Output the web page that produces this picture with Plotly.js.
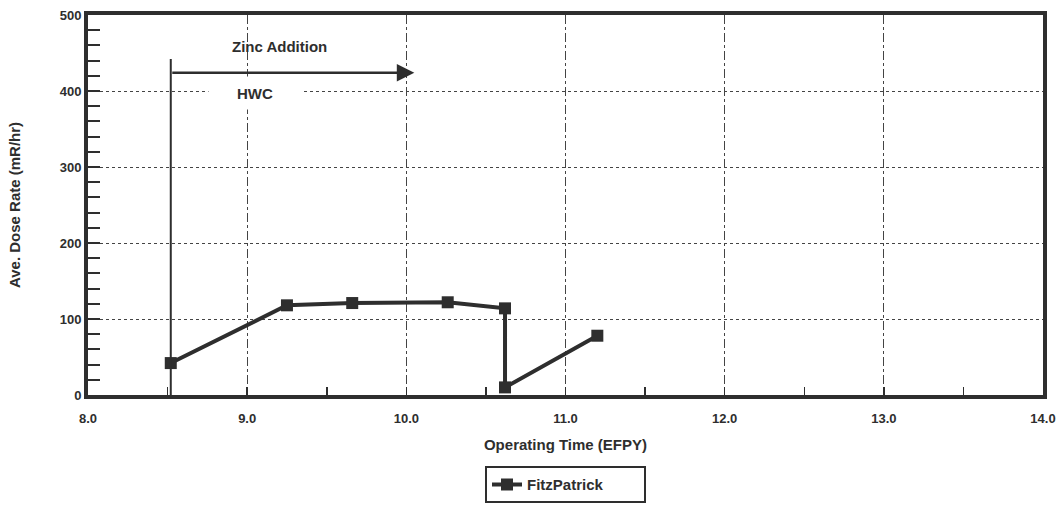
<!DOCTYPE html>
<html>
<head>
<meta charset="utf-8">
<script src="https://cdn.plot.ly/plotly-3.0.1.min.js"></script>
<style>html,body{margin:0;padding:0;background:#fff;}#chart{width:1063px;height:508px;}</style>
</head>
<body>
<div id="chart"></div>
<script>
// Data
const seriesName = "FitzPatrick";
const timeEFPY = [8.52, 9.25, 9.66, 10.26, 10.62, 10.62, 11.2];
const doseRate = [42, 118, 121, 122, 114, 10, 78];

// Annotation data
const hwcStart = 8.52;
const hwcLineTop = 442;
const zincArrowY = 424;
const zincArrowEnd = 10.05;
const zincLabel = "Zinc Addition";
const zincLabelPos = [9.2, 459];
const hwcLabel = "HWC";
const hwcLabelPos = [9.05, 398];

const ink = "#2e2e2e";
const fontFam = "Liberation Sans, Arial, sans-serif";

const trace = {
  x: timeEFPY, y: doseRate, name: seriesName, type: "scatter", mode: "lines+markers",
  line: {color: ink, width: 4},
  marker: {symbol: "square", size: 12, color: ink},
  showlegend: true
};

const layout = {
  width: 1063, height: 508,
  margin: {l: 88, r: 20, t: 15, b: 113},
  paper_bgcolor: "#fff", plot_bgcolor: "#fff",
  font: {family: fontFam, color: ink, size: 13, weight: "bold"},
  xaxis: {
    range: [8, 14], dtick: 1, tick0: 8, tickformat: ".1f",
    automargin: false,
    showline: true, linewidth: 4, linecolor: ink, mirror: true,
    ticks: "inside", ticklen: 8, tickwidth: 1.5, tickcolor: ink,
    minor: {dtick: 0.5, ticks: "inside", ticklen: 8, tickwidth: 1.5, tickcolor: ink, showgrid: false},
    showgrid: true, gridcolor: "#444", gridwidth: 1, griddash: "dashdot",
    zeroline: false,
    ticklabelstandoff: 8,
    tickfont: {size: 13, family: fontFam, weight: "bold"},
    title: {text: "Operating Time (EFPY)", font: {size: 15, family: fontFam, weight: "bold"}, standoff: 16}
  },
  yaxis: {
    range: [0, 500], dtick: 100,
    automargin: false,
    showline: true, linewidth: 4, linecolor: ink, mirror: true,
    ticks: "inside", ticklen: 12, tickwidth: 2, tickcolor: ink,
    minor: {dtick: 20, ticks: "inside", ticklen: 12, tickwidth: 2, tickcolor: ink, showgrid: false},
    showgrid: true, gridcolor: "#444", gridwidth: 1, griddash: "dot",
    zeroline: false,
    tickfont: {size: 13, family: fontFam, weight: "bold"},
    title: {text: "Ave. Dose Rate (mR/hr)", font: {size: 15, family: fontFam, weight: "bold"}, standoff: 36}
  },
  legend: {
    orientation: "h",
    xref: "paper", x: 0.5, xanchor: "center",
    yref: "container", y: 0.082, yanchor: "top",
    entrywidth: 112,
    bordercolor: ink, borderwidth: 2, bgcolor: "#fff",
    font: {size: 15, family: fontFam, weight: "bold"}
  },
  shapes: [
    {type: "line", xref: "x", yref: "y", x0: hwcStart, x1: hwcStart, y0: 0, y1: hwcLineTop,
     line: {color: ink, width: 2}}
  ],
  annotations: [
    {x: zincArrowEnd, y: zincArrowY, ax: hwcStart, ay: zincArrowY, axref: "x", ayref: "y",
     xref: "x", yref: "y", text: "", showarrow: true, arrowhead: 2, arrowsize: 1.4, arrowwidth: 2.5, arrowcolor: ink},
    {x: zincLabelPos[0], y: zincLabelPos[1], xref: "x", yref: "y", text: zincLabel, showarrow: false,
     font: {size: 15, family: fontFam, color: ink, weight: "bold"}},
    {x: hwcLabelPos[0], y: hwcLabelPos[1], xref: "x", yref: "y", text: hwcLabel, showarrow: false,
     bgcolor: "#fff", width: 90, height: 30, font: {size: 15, family: fontFam, color: ink, weight: "bold"}}
  ]
};

Plotly.newPlot("chart", [trace], layout, {displayModeBar: false, staticPlot: true});
</script>
</body>
</html>
